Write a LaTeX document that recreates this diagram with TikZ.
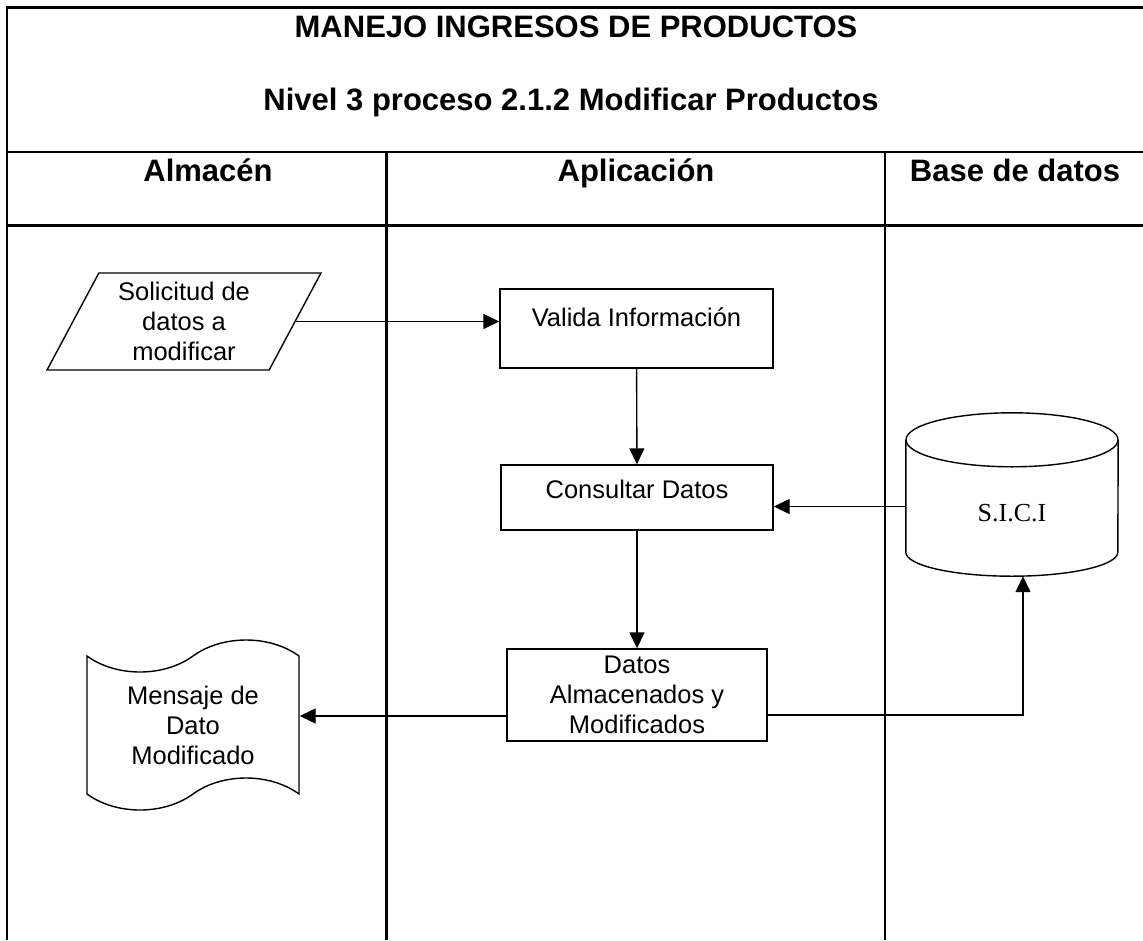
\documentclass[tikz,border=0pt]{standalone}
\usepackage{fontspec}
\setmainfont{Liberation Sans}
\newfontfamily\sicifont{Liberation Serif}
\usetikzlibrary{arrows.meta,shapes.geometric,shapes.symbols}

\tikzset{
  lane/.style={line width=2.4pt},
  proc/.style={draw,line width=1.4pt,align=center,font=\fontsize{25.5}{30}\selectfont},
  flow/.style={line width=1.4pt,-{Triangle[length=16pt,width=15pt]}},
  head/.style={anchor=base,font=\fontsize{31}{36}\selectfont\bfseries}
}

\begin{document}
\begin{tikzpicture}[x=1pt,y=-1pt]
    \useasboundingbox (0,0) rectangle (1143,940);
    % marco y carriles
    \draw[lane] (7,940) -- (7,7.5) -- (1160,7.5);
    \draw[lane] (7,152) -- (1160,152);
    \draw[lane] (7,225.5) -- (1160,225.5);
    \draw[lane] (386.5,152) -- (386.5,940);
    \draw[lane] (885,152) -- (885,940);

    \node[head] (titulo) at (576,37) {MANEJO INGRESOS DE PRODUCTOS};
    \node[head] (nivel) at (571,110) {Nivel 3 proceso 2.1.2 Modificar Productos};
    \node[head] (almacen) at (208,181) {Almacén};
    \node[head] (aplic) at (636,181) {Aplicación};
    \node[head] (bd) at (1015,181) {Base de datos};

    % simbolos
    \node[proc,trapezium,trapezium left angle=63,trapezium right angle=117,
          trapezium stretches,minimum width=274pt,minimum height=97pt,inner sep=0pt]
          (sol) at (184,321.5) {Solicitud de\\datos a\\modificar};
    \node[proc,minimum width=273pt,minimum height=79pt] (val) at (636.5,328.5)
          {\raisebox{11pt}[\height][\depth]{Valida Información}};
    \node[proc,minimum width=272pt,minimum height=65pt] (con) at (637,497.5)
          {\raisebox{8pt}[\height][\depth]{Consultar Datos}};
    \node[proc,minimum width=260pt,minimum height=92pt] (dat) at (637,695) {Datos\\Almacenados y\\Modificados};
    \node[minimum width=212pt,minimum height=163pt,inner sep=0pt] (db) at (1012,494.5) {};
    \draw[line width=1.4pt] ([yshift=-27pt]db.north west) -- ([yshift=24pt]db.south west)
          arc[start angle=180,end angle=360,x radius=106pt,y radius=24pt]
          -- ([yshift=-27pt]db.north east);
    \draw[line width=1.4pt] ([yshift=-27pt]db.north) ellipse [x radius=106pt,y radius=27pt];
    \node[font=\sicifont\fontsize{26}{30}\selectfont] (sici) at (1012,513) {S.I.C.I};
    \node[proc,tape,tape bend height=32pt,minimum width=212pt,minimum height=170pt,inner sep=0pt]
          (msg) at (193,725) {Mensaje de\\Dato\\Modificado};

    % flujos
    \draw[flow] (sol.east) -- (sol.east -| val.west);
    \draw[flow] (val) -- (con);
    \draw[flow] ([yshift=-12pt]db.west) -- ([yshift=-12pt]db.west -| con.east);
    \draw[flow] (con) -- (dat);
    \draw[flow] ([yshift=-21pt]dat.west) -- ([yshift=-21pt]dat.west -| msg.east);
    \draw[flow] ([yshift=-20pt]dat.east) -| ([xshift=11pt]db.south);
\end{tikzpicture}
\end{document}
